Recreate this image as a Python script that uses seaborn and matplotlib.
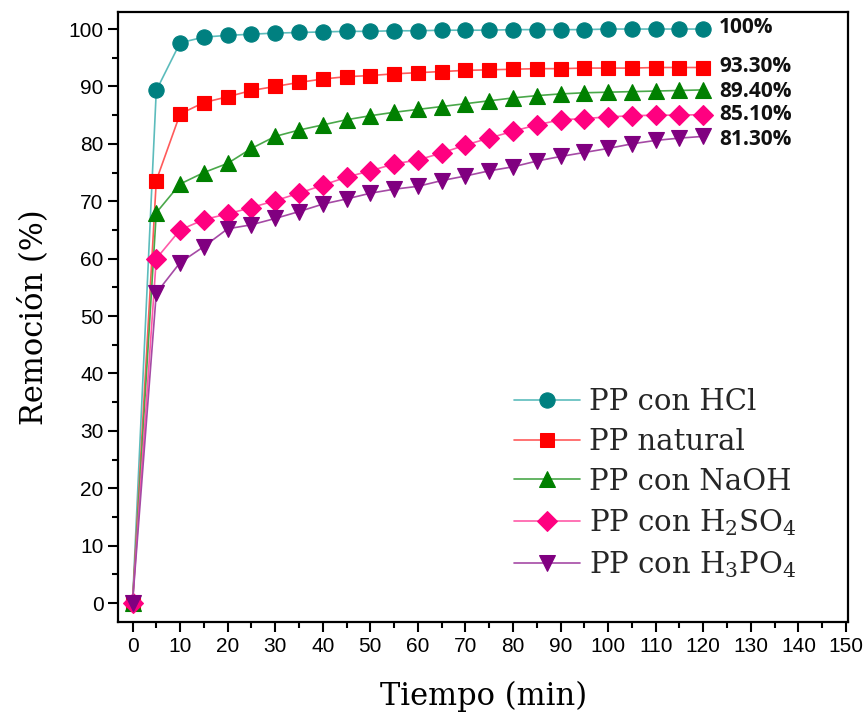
import numpy as np
import pandas as pd
import matplotlib
matplotlib.use("Agg")
import matplotlib.pyplot as plt
import seaborn as sns
from matplotlib.ticker import MultipleLocator

tiempo = [0, 5, 10, 15, 20, 25, 30, 35, 40, 45, 50, 55, 60, 65, 70, 75, 80, 85, 90, 95, 100, 105, 110, 115, 120]
hcl = [0, 89.3, 97.6, 98.6, 98.9, 99.1, 99.3, 99.4, 99.5, 99.6, 99.6, 99.7, 99.7, 99.8, 99.8, 99.8, 99.9, 99.9, 99.9, 99.9, 100, 100, 100, 100, 100]
natural = [0, 73.6, 85.2, 87.2, 88.2, 89.3, 90.0, 90.7, 91.3, 91.7, 91.9, 92.2, 92.4, 92.6, 92.8, 92.9, 93.0, 93.1, 93.1, 93.2, 93.2, 93.2, 93.3, 93.3, 93.3]
naoh = [0, 68.0, 73.0, 75.0, 76.6, 79.2, 81.3, 82.4, 83.3, 84.2, 84.9, 85.5, 86.0, 86.5, 87.0, 87.5, 88.0, 88.4, 88.7, 88.9, 89.0, 89.1, 89.2, 89.3, 89.4]
h2so4 = [0, 60.0, 65.0, 66.8, 67.8, 68.9, 70.1, 71.4, 72.8, 74.2, 75.3, 76.5, 77.2, 78.4, 79.8, 81.0, 82.2, 83.3, 84.2, 84.4, 84.7, 84.9, 85.0, 85.0, 85.1]
h3po4 = [0, 54.0, 59.3, 62.1, 65.2, 65.9, 67.0, 68.2, 69.5, 70.4, 71.4, 72.1, 72.6, 73.6, 74.4, 75.3, 76.0, 77.0, 77.8, 78.5, 79.2, 80.0, 80.6, 81.0, 81.3]

series_names = ["PP con HCl", "PP natural", "PP con NaOH",
                r"PP con H$_2$SO$_4$", r"PP con H$_3$PO$_4$"]
series_vals = [hcl, natural, naoh, h2so4, h3po4]
end_labels = ["100%", "93.30%", "89.40%", "85.10%", "81.30%"]
end_offsets = [0.2, 0.2, -0.3, 0, -0.5]

marker_colors = ["#008080", "#ff0000", "#008000", "#ff0080", "#800080"]
line_colors = ["#5cbcbc", "#ff5a5a", "#4aa84a", "#ff5aa8", "#a54aa5"]
markers = ["o", "s", "^", "D", "v"]
msizes = [11, 10, 11, 10, 11]

rows = []
for name, vals in zip(series_names, series_vals):
    for t, v in zip(tiempo, vals):
        rows.append({"Tiempo": t, "Remocion": v, "Serie": name})
df = pd.DataFrame(rows)

sns.set_style("white")
plt.rcParams["font.family"] = ["DejaVu Serif"]
plt.rcParams["mathtext.fontset"] = "dejavuserif"

fig = plt.figure(figsize=(8.63, 7.17), dpi=100)
ax = fig.add_axes([0.137, 0.1325, 0.846, 0.851])

sns.lineplot(data=df, x="Tiempo", y="Remocion", hue="Serie", style="Serie",
             hue_order=series_names, style_order=series_names,
             palette=dict(zip(series_names, line_colors)),
             markers=dict(zip(series_names, markers)), dashes=False,
             linewidth=1.2, ax=ax, legend=True)

for line, mc, ms in zip(ax.lines[:5], marker_colors, msizes):
    line.set_markerfacecolor(mc)
    line.set_markeredgecolor(mc)
    line.set_markersize(ms)
    line.set_markeredgewidth(0.8)

for vals, lab, off, c in zip(series_vals, end_labels, end_offsets, marker_colors):
    ax.text(123.3, vals[-1] + off, lab, fontsize=15, fontweight="bold",
            family=["Open Sans", "DejaVu Sans"], va="center", ha="left", color="#111111")

ax.set_xlim(-3, 150.5)
ax.set_ylim(-3.3, 103)
ax.xaxis.set_major_locator(MultipleLocator(10))
ax.xaxis.set_minor_locator(MultipleLocator(5))
ax.yaxis.set_major_locator(MultipleLocator(10))
ax.yaxis.set_minor_locator(MultipleLocator(5))
ax.tick_params(which="major", direction="out", length=7, width=1.5, bottom=True, left=True,
               colors="black", labelcolor="black")
ax.tick_params(which="minor", direction="out", length=4, width=1.5, bottom=True, left=True,
               colors="black")
for lab in ax.get_xticklabels() + ax.get_yticklabels():
    lab.set_family(["Liberation Sans Narrow", "Liberation Sans", "DejaVu Sans"])
    lab.set_fontsize(15)
for sp in ax.spines.values():
    sp.set_linewidth(1.6)
    sp.set_color("black")

ax.set_xlabel("Tiempo (min)", fontsize=22, labelpad=18, color="black")
ax.set_ylabel("Remoción (%)", fontsize=22, labelpad=14, color="black")

handles, labels = ax.get_legend_handles_labels()
for h, mc, ms in zip(handles, marker_colors, msizes):
    h.set_markerfacecolor(mc)
    h.set_markeredgecolor(mc)
    h.set_markersize(ms)
leg = ax.legend(handles, labels, loc="lower right", bbox_to_anchor=(0.965, 0.025),
                frameon=False, fontsize=21, handlelength=2.25, labelspacing=0.4,
                handletextpad=0.3)

fig.savefig("out.png", dpi=100)
